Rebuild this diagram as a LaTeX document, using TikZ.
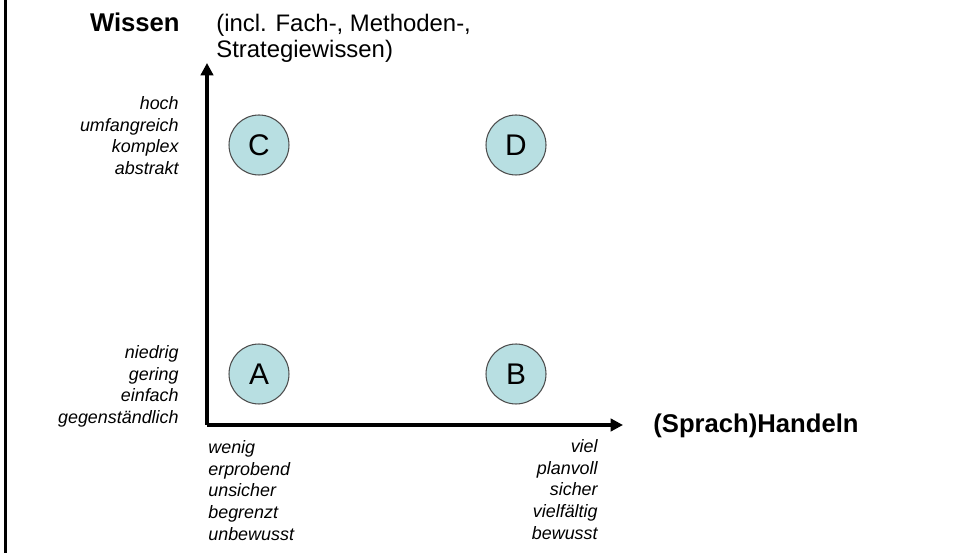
\documentclass[tikz,border=0pt]{standalone}
\usepackage{fontspec}
\setmainfont{Liberation Sans}
\usepackage{xcolor}
\usetikzlibrary{arrows.meta}
\definecolor{circfill}{RGB}{184,223,226}

\begin{document}
\begin{tikzpicture}[
x=0.02cm,y=-0.02cm,
axis/.style={line width=1.9pt, -{Triangle[length=7pt,width=7pt]}},
circ/.style={circle, draw=black!70, fill=circfill, line width=0.6pt, minimum size=1.2cm, inner sep=0pt, font=\fontsize{17}{20}\selectfont},
lbl/.style={inner sep=0pt, font=\fontsize{10.2}{12.4}\selectfont\itshape},
big/.style={inner sep=0pt, font=\fontsize{14.6}{17}\selectfont\bfseries},
]
\useasboundingbox (0,0) rectangle (957,553);

%draw frame line on the left
\draw[line width=1.7pt] (5.5,0) -- (5.5,553);

%draw axes
\coordinate (O) at (207,425);
\coordinate (ytip) at (207,63);
\coordinate (xtip) at (623,425);
\draw[axis] (O) -- (ytip);
\draw[axis] (O) -- (xtip);

%draw axis titles
\node(wissen)[big, anchor=base east] at (180,32){Wissen};
\node(incl)[inner sep=0pt, anchor=north west, align=left, font=\fontsize{13.6}{14.7}\selectfont] at (216,14){(incl. Fach-, Methoden-,\\Strategiewissen)};
\node(handeln)[big, anchor=base west] at (653,433){(Sprach)Handeln};

%draw scale labels
\node(high)[lbl, anchor=north east, align=right] at (179,96){hoch\\umfangreich\\komplex\\abstrakt};
\node(low)[lbl, anchor=north east, align=right] at (179,345){niedrig\\gering\\einfach\\gegenständlich};
\node(few)[lbl, anchor=north west, align=left] at (208,440){wenig\\erprobend\\unsicher\\begrenzt\\unbewusst};
\node(many)[lbl, anchor=north east, align=right] at (598,439){viel\\planvoll\\sicher\\vielfältig\\bewusst};

%draw fields
\node(A)[circ] at (259,374){A};
\node(B)[circ] at (516,374){B};
\node(C)[circ] at (259,145){C};
\node(D)[circ] at (516,145){D};

\end{tikzpicture}
\end{document}
